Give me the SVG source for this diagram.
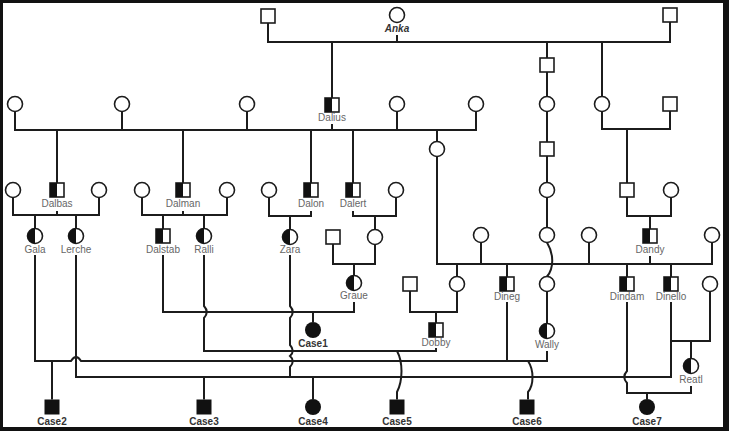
<svg xmlns="http://www.w3.org/2000/svg" xmlns:xlink="http://www.w3.org/1999/xlink" width="729" height="431" viewBox="0 0 729 431">
<style>
.ln{fill:none;stroke:#1c1c1c;stroke-width:2}
.sym{fill:#fff;stroke:#1c1c1c;stroke-width:1.6}
.blk{fill:#111;stroke:none}
.nm{font-family:"Liberation Sans",Arial,sans-serif;font-size:10px;fill:#666;text-anchor:middle}
.cs{font-family:"Liberation Sans",Arial,sans-serif;font-size:10px;font-weight:bold;fill:#333;text-anchor:middle}
.an{font-family:"Liberation Sans",Arial,sans-serif;font-size:10px;font-weight:bold;font-style:italic;fill:#333;text-anchor:middle}
</style>
<defs>
<g id="sq"><rect class="sym" x="-7" y="-7" width="14" height="14"/></g>
<g id="sqh"><rect class="sym" x="-7" y="-7" width="14" height="14"/><rect x="-7" y="-7" width="7" height="14" fill="#111"/></g>
<g id="sqf"><rect x="-7.5" y="-7.5" width="15" height="15" fill="#111"/></g>
<g id="ci"><circle class="sym" r="7.5"/></g>
<g id="cih"><circle class="sym" r="7.5"/><path d="M0,-7.5A7.5,7.5 0 0 0 0,7.5Z" fill="#111"/></g>
<g id="cif"><circle r="8" fill="#111"/></g>
</defs>
<rect x="0" y="0" width="729" height="431" fill="#111"/>
<rect x="3" y="3" width="720" height="424" fill="#fff"/>
<g id="connectors" class="ln">
<path d="M268,23V42H670V22"/>
<path d="M397,35V42"/>
<path d="M332,42V98"/>
<path d="M547,42V58"/>
<path d="M602,42V96.5"/>
<path d="M15,111.5V130H476V111.5"/>
<path d="M122,111.5V130M247,111.5V130M397,111.5V130M332,124V130"/>
<path d="M57,130V183M183,130V183M311,130V183M353,130V183M437,130V141.5"/>
<path d="M547,72V96.5M547,111.5V142M547,156V182.5M547,197.5V227.5"/>
<path d="M547,242.5C554,254 554,268 547,276.5"/>
<path d="M547,291.5V323.5"/>
<path d="M602,111.5V129H670V111M627,129V183"/>
<path d="M627,197V216H671V197.5M650,216V229M650,256V264"/>
<path d="M13,197.5V215H99V197.5M57,211V215M35,215V228.5M76,215V228.5"/>
<path d="M142,197.5V215H227V197.5M183,211V215M163,215V229M204,215V228.5"/>
<path d="M269,197.5V216H311V211M290,216V229.5"/>
<path d="M353,211V216H396V197.5M375,216V229.5"/>
<path d="M437,156.5V264H712V242.5M481,242.5V264M589,242.5V264"/>
<path d="M457,264V276.5M507,264V277M627,264V277M671,264V277"/>
<path d="M333,244V264H375V244.5M354,264V275.5"/>
<path d="M410,291V312H457V291.5M436,312V323"/>
<path d="M163,255V312H354V302M313,312V322"/>
<path d="M204,255V306Q209.5,312 204,318V351H436V348"/>
<path d="M397,351C403,362 403,380 397,392V399.5"/>
<path d="M35,255V361H71Q76,353 81,361H547V351"/>
<path d="M507,302V361M52,361V399.5"/>
<path d="M528,361C534,370 534,385 528,392V399.5"/>
<path d="M76,255V377H671V302"/>
<path d="M290,255V306Q295.5,312 290,318V345Q295.5,351 290,356Q295.5,361 290,367V377"/>
<path d="M204,377V399.5M313,377V399"/>
<path d="M627,302V371Q621.5,377 627,383V393H691V386M647,393V399"/>
<path d="M671,341H710V291.5M691,341V358.5"/>
</g>
<g id="n-gf"><use href="#sq" x="268" y="16"/></g>
<g id="n-anka"><use href="#ci" x="397" y="15"/><text class="an" x="397" y="32">Anka</text></g>
<g id="n-gf2"><use href="#sq" x="670" y="15"/></g>
<g id="n-w1"><use href="#ci" x="15" y="104"/></g>
<g id="n-w2"><use href="#ci" x="122" y="104"/></g>
<g id="n-w3"><use href="#ci" x="247" y="104"/></g>
<g id="n-dalius"><use href="#sqh" x="332" y="105"/><text class="nm" x="332" y="121">Dalius</text></g>
<g id="n-w4"><use href="#ci" x="397" y="104"/></g>
<g id="n-w5"><use href="#ci" x="476" y="104"/></g>
<g id="n-m1"><use href="#sq" x="547" y="65"/></g>
<g id="n-m2"><use href="#ci" x="547" y="104"/></g>
<g id="n-m3"><use href="#sq" x="547" y="149"/></g>
<g id="n-m4"><use href="#ci" x="547" y="190"/></g>
<g id="n-m5"><use href="#ci" x="547" y="235"/></g>
<g id="n-m6"><use href="#ci" x="547" y="284"/></g>
<g id="n-wally"><use href="#cih" x="547" y="331"/><text class="nm" x="547" y="348">Wally</text></g>
<g id="n-r1"><use href="#ci" x="602" y="104"/></g>
<g id="n-r2"><use href="#sq" x="670" y="104"/></g>
<g id="n-r3"><use href="#sq" x="627" y="190"/></g>
<g id="n-r4"><use href="#ci" x="671" y="190"/></g>
<g id="n-dandy"><use href="#sqh" x="650" y="236"/><text class="nm" x="650" y="253">Dandy</text></g>
<g id="n-b1"><use href="#ci" x="13" y="190"/></g>
<g id="n-dalbas"><use href="#sqh" x="57" y="190"/><text class="nm" x="57" y="207">Dalbas</text></g>
<g id="n-b2"><use href="#ci" x="99" y="190"/></g>
<g id="n-b3"><use href="#ci" x="142" y="190"/></g>
<g id="n-dalman"><use href="#sqh" x="183" y="190"/><text class="nm" x="183" y="207">Dalman</text></g>
<g id="n-b4"><use href="#ci" x="227" y="190"/></g>
<g id="n-b5"><use href="#ci" x="269" y="190"/></g>
<g id="n-dalon"><use href="#sqh" x="311" y="190"/><text class="nm" x="311" y="207">Dalon</text></g>
<g id="n-dalert"><use href="#sqh" x="353" y="190"/><text class="nm" x="353" y="207">Dalert</text></g>
<g id="n-b6"><use href="#ci" x="396" y="190"/></g>
<g id="n-b7"><use href="#ci" x="437" y="149"/></g>
<g id="n-gala"><use href="#cih" x="35" y="236"/><text class="nm" x="35" y="253">Gala</text></g>
<g id="n-lerche"><use href="#cih" x="76" y="236"/><text class="nm" x="76" y="253">Lerche</text></g>
<g id="n-dalstab"><use href="#sqh" x="163" y="236"/><text class="nm" x="163" y="253">Dalstab</text></g>
<g id="n-ralli"><use href="#cih" x="204" y="236"/><text class="nm" x="204" y="253">Ralli</text></g>
<g id="n-zara"><use href="#cih" x="290" y="237"/><text class="nm" x="290" y="253">Zara</text></g>
<g id="n-c1"><use href="#sq" x="333" y="237"/></g>
<g id="n-c2"><use href="#ci" x="375" y="237"/></g>
<g id="n-c3"><use href="#ci" x="481" y="235"/></g>
<g id="n-c4"><use href="#ci" x="589" y="235"/></g>
<g id="n-c5"><use href="#ci" x="712" y="235"/></g>
<g id="n-graue"><use href="#cih" x="354" y="283"/><text class="nm" x="354" y="299">Graue</text></g>
<g id="n-d1"><use href="#sq" x="410" y="284"/></g>
<g id="n-d2"><use href="#ci" x="457" y="284"/></g>
<g id="n-dineg"><use href="#sqh" x="507" y="284"/><text class="nm" x="507" y="300">Dineg</text></g>
<g id="n-dindam"><use href="#sqh" x="627" y="284"/><text class="nm" x="627" y="300">Dindam</text></g>
<g id="n-dinello"><use href="#sqh" x="671" y="284"/><text class="nm" x="671" y="300">Dinello</text></g>
<g id="n-d3"><use href="#ci" x="710" y="284"/></g>
<g id="n-case1"><use href="#cif" x="313" y="330"/><text class="cs" x="313" y="347">Case1</text></g>
<g id="n-dobby"><use href="#sqh" x="436" y="330"/><text class="nm" x="436" y="346">Dobby</text></g>
<g id="n-reatl"><use href="#cih" x="691" y="366"/><text class="nm" x="691" y="383">Reatl</text></g>
<g id="n-case2"><use href="#sqf" x="52" y="407"/><text class="cs" x="52" y="425">Case2</text></g>
<g id="n-case3"><use href="#sqf" x="204" y="407"/><text class="cs" x="204" y="425">Case3</text></g>
<g id="n-case4"><use href="#cif" x="313" y="407"/><text class="cs" x="313" y="425">Case4</text></g>
<g id="n-case5"><use href="#sqf" x="397" y="407"/><text class="cs" x="397" y="425">Case5</text></g>
<g id="n-case6"><use href="#sqf" x="527" y="407"/><text class="cs" x="527" y="425">Case6</text></g>
<g id="n-case7"><use href="#cif" x="647" y="407"/><text class="cs" x="647" y="425">Case7</text></g>
</svg>
